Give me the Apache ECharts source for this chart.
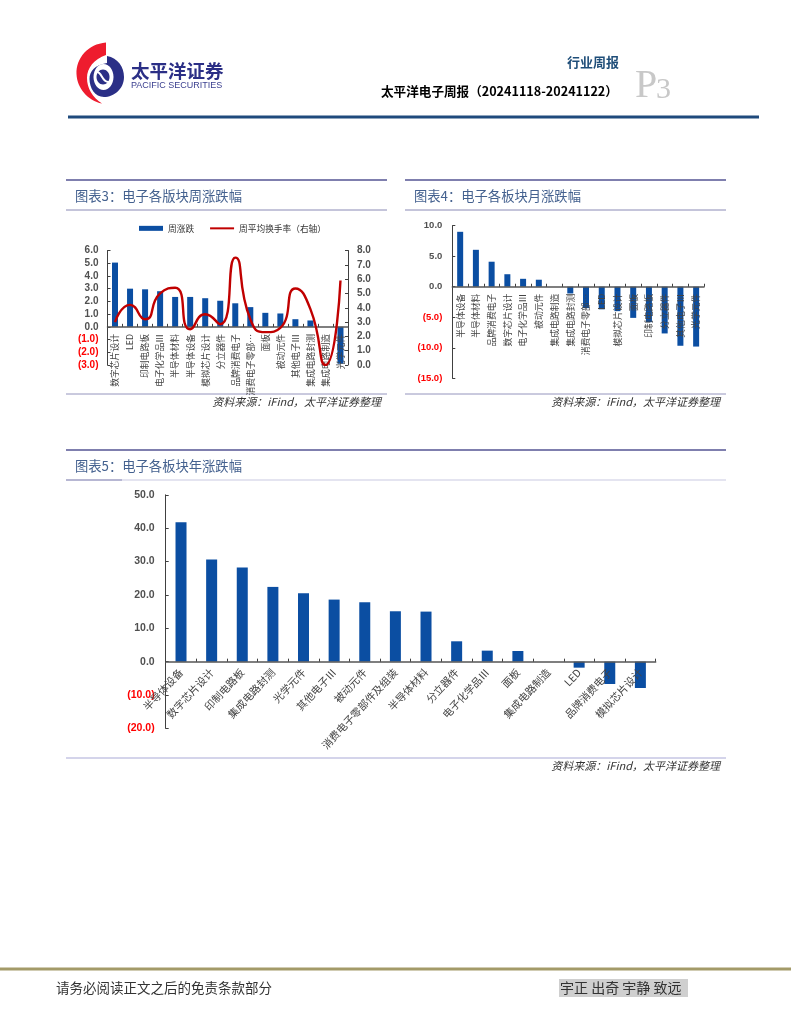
<!DOCTYPE html>
<html><head><meta charset="utf-8">
<style>html,body{margin:0;padding:0;background:#fff}#c{width:791px;height:1024px}</style>
<script src="https://cdn.jsdelivr.net/npm/echarts@6/dist/echarts.min.js"></script>
</head><body><div id="c"></div>
<script>
const weekCats=['数字芯片设计','LED','印制电路板','电子化学品Ⅲ','半导体材料','半导体设备','模拟芯片设计','分立器件','品牌消费电子','消费电子零部…','面板','被动元件','其他电子Ⅲ','集成电路封测','集成电路制造','光学元件'];
const weekChange=[5.05,3.0,2.95,2.8,2.35,2.35,2.25,2.05,1.85,1.55,1.1,1.05,0.6,0.5,0.0,-2.9];
const weekTurnover=[3.0,4.2,3.2,5.0,5.4,2.5,3.55,2.85,7.5,3.2,2.3,2.6,5.35,3.9,0.0,5.9];
const monthCats=['半导体设备','半导体材料','品牌消费电子','数字芯片设计','电子化学品Ⅲ','被动元件','集成电路制造','集成电路封测','消费电子零部…','LED','模拟芯片设计','面板','印制电路板','分立器件','其他电子Ⅲ','光学元件'];
const monthChange=[9.0,6.05,4.1,2.05,1.3,1.15,0.0,-1.1,-3.5,-3.7,-4.0,-5.1,-5.8,-7.65,-9.67,-9.8];
const yearCats=['半导体设备','数字芯片设计','印制电路板','集成电路封测','光学元件','其他电子Ⅲ','被动元件','消费电子零部件及组装','半导体材料','分立器件','电子化学品Ⅲ','面板','集成电路制造','LED','品牌消费电子','模拟芯片设计'];
const yearChange=[41.8,30.6,28.2,22.4,20.5,18.6,17.8,15.1,15.0,6.1,3.3,3.2,0.0,-1.8,-6.7,-7.9];

const CJK='"Noto Sans CJK SC"', NUM='"Liberation Sans"';
const BLUE='#0b4ea2', AXIS='#404040';
const fmt=v=>v<0?'('+Math.abs(v).toFixed(1)+')':v.toFixed(1);
const numLabel={formatter:fmt,color:v=>v<0?'#ff0000':'#505050',fontFamily:NUM,fontWeight:'bold',fontSize:10,margin:9};

function yAxis(grid,min,max,interval,extra){
  return Object.assign({type:'value',gridIndex:grid,min,max,interval,splitLine:{show:false},
    axisLine:{show:true,lineStyle:{color:AXIS,width:1}},
    axisTick:{show:true,inside:true,length:3,lineStyle:{color:AXIS}},axisLabel:numLabel},extra||{});
}
function xAxis(grid,cats,label){
  return {type:'category',gridIndex:grid,data:cats,z:3,boundaryGap:true,
    axisLine:{show:true,onZero:true,lineStyle:{color:'#555',width:1.5}},
    axisTick:{show:true,inside:true,length:3,alignWithLabel:false,lineStyle:{color:AXIS}},
    axisLabel:Object.assign({interval:0,color:'#444',fontFamily:CJK},label)};
}
function line(x1,y1,x2,y2,color,w){return {type:'line',silent:true,shape:{x1,y1,x2,y2},style:{stroke:color,lineWidth:w}};}
function txt(x,y,text,font,fill,align){return {type:'text',silent:true,x,y,style:{text,font,fill,align:align||'left',verticalAlign:'middle'}};}
let pathCount=0;
function path(d,fill){
  const name='logoPath'+(pathCount++);
  echarts.graphic.registerShape(name,echarts.graphic.extendPath(d,{}));
  return {type:name,silent:true,shape:{},style:{fill}};
}
const cjk=(s,b)=>(b?'bold ':'')+s+'px '+CJK;
const srcFont='italic 11px '+CJK;

const decor=[
  path('M106,42.5 C88,44 76,58 76.5,74 C77,88 88,101 102,103.5 C92,97 87,88 87,78 C87,68 94,59 106,55 Z','#ee1c2e'),
  path('M107,56 C118,58 124,67 124,77 C124,89 114,97 104,97 C95,97 89.5,88 89.5,79 C89.5,71 95,65 107,63 Z','#2b2f86'),
  {type:'ellipse',silent:true,shape:{cx:103.5,cy:77,rx:10,ry:13},style:{fill:'#fff'}},
  {type:'ellipse',silent:true,shape:{cx:103,cy:77,rx:6.5,ry:7.5},style:{fill:'#2b2f86'}},
  {type:'bezierCurve',silent:true,shape:{x1:97,y1:72,cpx1:102,cpy1:72,cpx2:102,cpy2:83,x2:109,y2:82},style:{stroke:'#fff',lineWidth:2,fill:'none'}},
  txt(131,71,'太平洋证券',cjk(18.5,true),'#2b2f86'),
  txt(131,85.5,'PACIFIC SECURITIES','9px '+NUM,'#3a3f8f'),
  txt(567,62.5,'行业周报',cjk(13,true),'#1f4e79'),
  txt(381,91,'太平洋电子周报（20241118-20241122）',cjk(12.6,true),'#000'),
  txt(635,86,'P','40px "Liberation Serif"','#c8c8c8'),
  txt(656,90,'3','30px "Liberation Serif"','#c8c8c8'),
  line(68,117,759,117,'#1f4a7c',3),
  line(66,180,387,180,'#7f7fae',2), line(66,210,387,210,'#8a8ab5',1), line(66,394,387,394,'#9494bd',1),
  txt(75,196,'图表3：电子各版块周涨跌幅',cjk(13.3),'#44618f'),
  txt(381,402,'资料来源：iFind，太平洋证券整理',srcFont,'#333','right'),
  line(405,180,726,180,'#7f7fae',2), line(405,210,726,210,'#8a8ab5',1), line(405,394,726,394,'#9494bd',1),
  txt(414,196,'图表4：电子各板块月涨跌幅',cjk(13.3),'#44618f'),
  txt(720,402,'资料来源：iFind，太平洋证券整理',srcFont,'#333','right'),
  line(66,450,726,450,'#7f7fae',2), line(66,480,726,480,'#e4e4f0',2), line(66,480,122,480,'#8a8ab5',1),
  line(66,758,726,758,'#a9a9d6',1),
  txt(75,465.5,'图表5：电子各板块年涨跌幅',cjk(13.3),'#44618f'),
  txt(720,766,'资料来源：iFind，太平洋证券整理',srcFont,'#333','right'),
  line(0,969,791,969,'#a39a68',3),
  txt(56,988,'请务必阅读正文之后的免责条款部分',cjk(13.5),'#333'),
  {type:'rect',silent:true,shape:{x:559,y:979,width:129,height:18},style:{fill:'#cfcfcf'}},
  txt(560,988,'宇正 出奇 宇静 致远',cjk(14),'#333')
];

const option={
  animation:false,backgroundColor:'#fff',
  textStyle:{fontFamily:CJK},
  legend:{left:134,top:219,itemWidth:24,itemHeight:5,itemGap:15,
    textStyle:{fontSize:8.7,color:'#333',fontFamily:CJK},
    data:[{name:'周涨跌',icon:'rect'},{name:'周平均换手率（右轴）',itemStyle:{opacity:0}}]},
  grid:[
    {left:107.5,top:250.5,width:240.5,height:114.5},
    {left:452.3,top:225.7,width:251.7,height:152.6},
    {left:165.7,top:494.8,width:490,height:233.6}
  ],
  xAxis:[
    xAxis(0,weekCats,{rotate:90,fontSize:8.8,margin:-31}),
    xAxis(1,monthCats,{rotate:90,fontSize:8.8,margin:-84.6}),
    xAxis(2,yearCats,{rotate:47,fontSize:10.5,margin:-58})
  ],
  yAxis:[
    yAxis(0,-3,6,1),
    yAxis(0,0,8,1,{position:'right',axisLabel:Object.assign({},numLabel,{margin:9})}),
    yAxis(1,-15,10,5,{axisLabel:Object.assign({},numLabel,{fontSize:9.5,margin:10})}),
    yAxis(2,-20,50,10,{axisLabel:Object.assign({},numLabel,{fontSize:10.5,margin:11})})
  ],
  series:[
    {name:'周涨跌',type:'bar',xAxisIndex:0,yAxisIndex:0,data:weekChange,barWidth:6,itemStyle:{color:BLUE}},
    {name:'周平均换手率（右轴）',type:'line',xAxisIndex:0,yAxisIndex:1,data:weekTurnover,smooth:0.6,symbol:'none',z:6,
      lineStyle:{color:'#c00000',width:2.4},itemStyle:{color:'#c00000'}},
    {name:'月涨跌',type:'bar',xAxisIndex:1,yAxisIndex:2,data:monthChange,barWidth:6,itemStyle:{color:BLUE}},
    {name:'年涨跌',type:'bar',xAxisIndex:2,yAxisIndex:3,data:yearChange,barWidth:11,itemStyle:{color:BLUE}}
  ],
  graphic:decor
};
const chart=echarts.init(document.getElementById('c'),null,{renderer:'canvas',width:791,height:1024});
chart.setOption(option);
</script></body></html>
